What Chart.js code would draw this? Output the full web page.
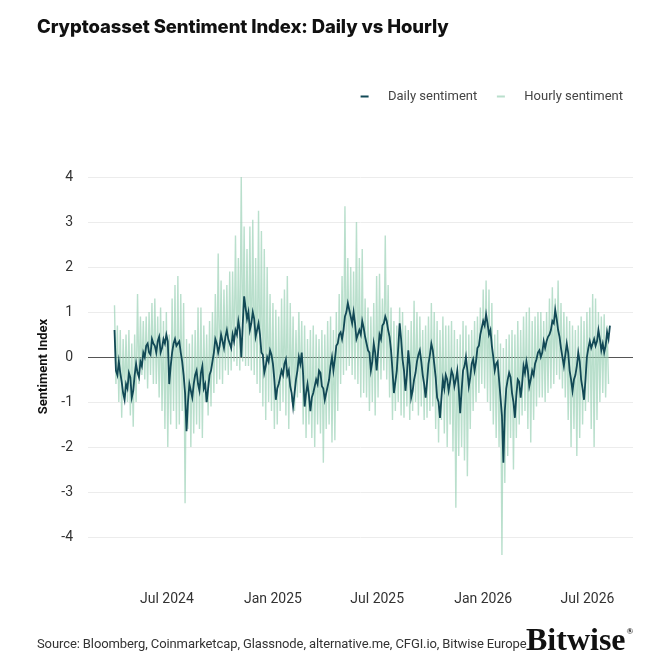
<!DOCTYPE html>
<html>
<head>
<meta charset="utf-8">
<script src="https://cdn.jsdelivr.net/npm/chart.js@4.4.1/dist/chart.umd.min.js"></script>
<style>
body{margin:0;background:#fff;}
#wrap{position:relative;width:671px;height:671px;overflow:hidden;}
canvas{position:absolute;left:0;top:0;}
#title{position:absolute;left:37px;top:17px;font:800 18.5px Inter,sans-serif;letter-spacing:-0.1px;color:#111;line-height:1;white-space:nowrap;}
#source{position:absolute;left:37px;top:637px;font:13px Roboto,sans-serif;letter-spacing:-0.1px;color:#333;line-height:1;white-space:nowrap;}
#logo{position:absolute;left:526px;top:623px;font:bold 32px "Liberation Serif",serif;color:#111;line-height:1;white-space:nowrap;}
#logo sup{font-size:9px;vertical-align:top;position:relative;top:4px;margin-left:1px;}
</style>
</head>
<body>
<div id="wrap">
  <canvas id="chart" width="671" height="671"></canvas>
  <div id="title">Cryptoasset Sentiment Index: Daily vs Hourly</div>
  <div id="source">Source: Bloomberg, Coinmarketcap, Glassnode, alternative.me, CFGI.io, Bitwise Europe</div>
  <div id="logo">Bitwise<sup>®</sup></div>
</div>
<script>
// data
const startDate="2024-04-01";
const axisStart="2024-02-15", axisEnd="2026-09-18";
const dailyStep=2.5; // days between daily points
const hourlyStep=5;  // days between hourly highs (lows sit half a step later)
const dailyValues=[
0.6,-0.3,-0.4,-0.1,-0.35,-0.55,-0.8,-0.95,-0.6,-0.7,-0.35,-0.45,-0.9,-0.75,-0.4,-0.15,-0.35,-0.45,-0.1,-0.2,
0.1,0.0,0.25,0.3,0.1,0.05,0.4,0.3,0.25,0.1,0.35,0.45,0.1,0.2,0.4,0.3,0.5,0.35,-0.6,-0.2,
0.1,0.3,0.4,0.25,0.3,0.35,0.1,-0.1,-0.4,-0.8,-1.65,-1.0,-0.6,-0.75,-0.9,-0.6,-0.4,-0.3,-0.6,-0.75,
-0.35,-0.2,-0.7,-0.6,-1.0,-0.7,-0.4,-0.3,-0.1,0.1,0.4,0.3,0.1,0.25,0.5,0.35,0.2,0.45,0.6,0.4,
0.3,0.2,0.5,0.35,0.6,0.5,0.8,0.6,0.0,0.7,1.35,1.1,0.85,1.0,0.6,0.75,1.0,0.85,0.45,0.6,
0.75,0.5,0.1,0.05,-0.35,-0.2,0.0,-0.1,0.15,0.05,-0.15,-0.5,-0.95,-0.7,-0.6,-0.45,-0.3,-0.4,-0.15,-0.05,
-0.4,-0.3,-0.65,-0.8,-1.1,-0.8,-0.5,-0.3,0.0,-0.15,0.1,-0.4,-1.1,-0.8,-0.6,-0.85,-1.2,-0.9,-0.8,-0.65,
-0.5,-0.6,-0.3,-0.35,-0.65,-0.7,-0.95,-0.8,-0.65,-0.5,-0.2,0.0,-0.3,-0.05,0.25,0.3,0.5,0.55,0.4,0.6,
0.9,1.0,1.2,1.05,0.9,0.75,1.0,0.75,0.4,0.5,0.6,0.5,0.8,0.65,0.45,0.3,0.15,0.1,-0.3,-0.1,
0.3,0.1,-0.3,0.1,0.5,0.4,0.7,0.75,0.9,0.8,0.6,0.45,0.15,-0.3,-0.8,-0.55,-0.3,0.2,0.75,0.4,
-0.05,-0.3,-0.75,-0.4,0.15,-0.2,-0.9,-0.75,-0.5,-0.35,-0.1,0.05,0.15,-0.1,-0.4,-0.6,-0.9,-0.55,-0.15,0.05,
0.3,0.15,-0.15,-0.45,-0.9,-1.0,-1.35,-0.9,-0.5,-0.7,-0.4,-0.5,-0.75,-0.55,-0.3,-0.4,-0.65,-0.5,-0.3,-0.7,
-1.25,-0.75,-0.3,-0.2,0.0,-0.3,-0.65,-0.45,-0.15,-0.05,-0.3,-0.1,0.2,0.25,0.5,0.65,0.8,0.7,0.95,0.75,
0.5,0.6,0.25,0.0,-0.3,-0.15,-0.1,-0.5,-0.9,-1.3,-2.35,-1.2,-0.7,-0.5,-0.35,-0.45,-0.8,-1.0,-1.35,-0.85,
-0.5,-0.55,-0.9,-0.6,-0.2,-0.35,-0.1,-0.3,-0.65,-0.5,-0.3,-0.4,-0.15,-0.05,0.1,0.15,0.0,0.1,0.35,0.2,
0.35,0.45,0.5,0.6,0.8,0.75,1.05,0.85,0.6,0.45,0.2,0.0,-0.2,0.05,0.3,0.1,-0.3,-0.5,-0.75,-0.5,
-0.4,-0.2,0.1,-0.1,-0.5,-0.7,-0.95,-0.5,0.0,0.2,0.35,0.2,0.3,0.4,0.25,0.35,0.6,0.4,0.15,0.3,
0.1,0.25,0.55,0.4,0.7
];
const hourlyHigh=[
1.15,0.7,0.6,0.4,0.5,0.6,0.3,0.5,1.4,0.9,
0.8,0.9,1.0,1.2,1.3,0.9,1.1,0.8,1.0,0.5,
1.3,1.6,1.8,1.4,1.2,0.4,0.3,0.5,0.6,1.1,
1.1,0.7,0.5,0.8,1.0,1.4,2.3,1.7,1.5,1.6,
1.9,1.9,2.7,2.2,4.0,2.9,2.4,2.9,3.05,2.2,
3.25,2.8,2.4,2.0,1.4,1.2,1.05,0.9,1.3,1.5,
1.8,1.2,0.9,0.6,1.0,0.8,0.7,0.4,0.6,0.7,
0.5,0.4,0.6,0.5,0.8,0.9,0.6,1.0,1.4,1.8,
3.35,2.2,2.0,1.9,3.0,2.2,2.4,1.3,1.1,0.9,
1.2,1.8,1.85,1.3,2.7,1.6,1.1,0.8,0.7,1.1,
1.0,0.7,0.6,0.8,1.25,1.0,0.9,0.6,0.7,0.9,
1.2,1.0,0.8,0.6,0.9,0.7,0.7,0.8,0.6,0.4,
0.5,0.8,0.7,0.5,0.6,0.8,0.9,1.1,1.5,1.7,
1.5,1.2,0.5,0.6,0.3,0.2,0.4,0.5,0.6,0.5,
0.8,0.6,0.9,1.0,1.1,0.8,0.9,1.0,1.0,0.8,
1.0,1.3,1.55,1.3,1.7,1.2,1.0,0.9,0.8,0.7,
0.6,0.7,0.9,0.8,1.0,1.1,1.4,1.3,1.0,0.9,
0.95,0.7
];
const hourlyLow=[
-0.6,-1.0,-1.35,-0.9,-1.0,-1.3,-1.55,-1.0,-0.6,-0.4,
-0.5,-0.7,-0.4,-0.6,-0.6,-0.9,-1.2,-1.6,-2.0,-1.5,
-1.2,-1.6,-1.5,-1.2,-3.25,-1.6,-2.0,-1.7,-1.5,-1.6,
-1.8,-1.0,-1.3,-1.1,-0.8,-0.6,-0.5,-0.6,-0.3,-0.4,
-0.3,-0.1,-0.2,-0.3,-0.1,-0.2,-0.2,-0.3,-0.4,-0.6,
-0.8,-1.1,-1.4,-1.0,-1.2,-1.6,-1.5,-1.2,-1.0,-1.3,
-1.6,-1.0,-1.2,-0.9,-0.8,-1.5,-1.8,-1.5,-1.8,-2.0,
-1.5,-1.7,-2.35,-1.6,-1.5,-1.9,-1.85,-1.2,-0.6,-0.4,
-0.3,-0.2,-0.4,-0.5,-0.6,-0.9,-0.8,-0.9,-1.2,-1.0,
-1.3,-0.9,-0.5,-0.3,-0.5,-0.9,-1.4,-1.2,-1.0,-1.3,
-1.35,-1.1,-1.4,-1.2,-1.0,-1.3,-1.1,-1.4,-1.35,-1.2,
-1.1,-1.6,-1.9,-1.4,-1.7,-2.0,-1.5,-2.1,-3.35,-2.2,
-2.0,-2.3,-2.65,-1.6,-1.2,-1.0,-0.8,-0.6,-0.7,-1.0,
-1.2,-1.5,-1.8,-2.0,-4.4,-2.8,-2.2,-1.8,-2.5,-1.8,
-1.5,-1.3,-1.2,-1.6,-1.9,-1.4,-1.1,-0.9,-0.9,-1.0,
-0.8,-0.7,-0.6,-0.4,-0.5,-0.7,-0.9,-1.4,-2.0,-1.6,
-2.2,-1.8,-1.5,-1.2,-1.0,-1.6,-2.0,-1.4,-1.0,-0.8,
-0.9,-0.6
];
const xTickDates=["2024-07-01","2025-01-01","2025-07-01","2026-01-01","2026-07-01"];
const xTickLabels=["Jul 2024","Jan 2025","Jul 2025","Jan 2026","Jul 2026"];
const yTicks=[-4,-3,-2,-1,0,1,2,3,4];

const dayOf=s=>(Date.parse(s)-Date.parse(startDate))/86400000;
const xTickDays=xTickDates.map(dayOf);

const dailyPoints=dailyValues.map((v,i)=>({x:i*dailyStep,y:v}));
const hourlyPoints=[];
hourlyHigh.forEach((v,i)=>{
  hourlyPoints.push({x:i*hourlyStep,y:v});
  hourlyPoints.push({x:i*hourlyStep+hourlyStep/2,y:hourlyLow[i]});
});

// push the plot down below the legend
const legendGap={id:"legendGap",beforeInit(c){
  const fit=c.legend.fit;
  c.legend.fit=function(){fit.bind(c.legend)();this.height+=64;};
}};

Chart.defaults.font.family="Roboto";
new Chart(document.getElementById("chart"),{
  type:"line",
  data:{datasets:[
    {label:"Daily sentiment",data:dailyPoints,borderColor:"#124956",backgroundColor:"#124956",borderWidth:1.8,pointRadius:0,order:1},
    {label:"Hourly sentiment",data:hourlyPoints,borderColor:"rgba(155,210,182,0.7)",backgroundColor:"rgba(155,210,182,0.7)",borderWidth:1.4,pointRadius:0,order:2}
  ]},
  options:{
    responsive:false,animation:false,devicePixelRatio:1,
    layout:{padding:{left:28,right:38,top:80,bottom:50}},
    plugins:{
      tooltip:{enabled:false},
      legend:{position:"top",align:"end",labels:{
        boxWidth:8,boxHeight:2,padding:10,color:"#444",font:{size:13},
        generateLabels:c=>c.data.datasets.map((d,i)=>({
          text:"    "+d.label+(i===0?"   ":""),fillStyle:d.borderColor,strokeStyle:d.borderColor,lineWidth:0,datasetIndex:i,fontColor:"#444"}))
      }}
    },
    scales:{
      x:{type:"linear",min:dayOf(axisStart),max:dayOf(axisEnd),
        afterBuildTicks:s=>{s.ticks=xTickDays.map(v=>({value:v}));},
        afterFit:s=>{s.height=65;},
        grid:{display:false},border:{display:false},
        ticks:{padding:27,color:"#333",font:{size:14},maxRotation:0,autoSkip:false,
          callback:v=>xTickLabels[xTickDays.indexOf(v)]}},
      y:{min:-4.42,max:4,
        afterBuildTicks:s=>{s.ticks=yTicks.map(v=>({value:v}));},
        afterFit:s=>{s.width=60;},
        border:{display:false},
        grid:{drawTicks:false,lineWidth:1,color:c=>c.tick&&c.tick.value===0?"#555":"#ececec"},
        ticks:{padding:15,color:"#333",font:{size:14},callback:v=>String(v)},
        title:{display:true,text:"Sentiment Index",color:"#111",font:{size:13,weight:"bold"},padding:{top:8,bottom:0}}}
    }
  },
  plugins:[legendGap]
});
</script>
</body>
</html>
